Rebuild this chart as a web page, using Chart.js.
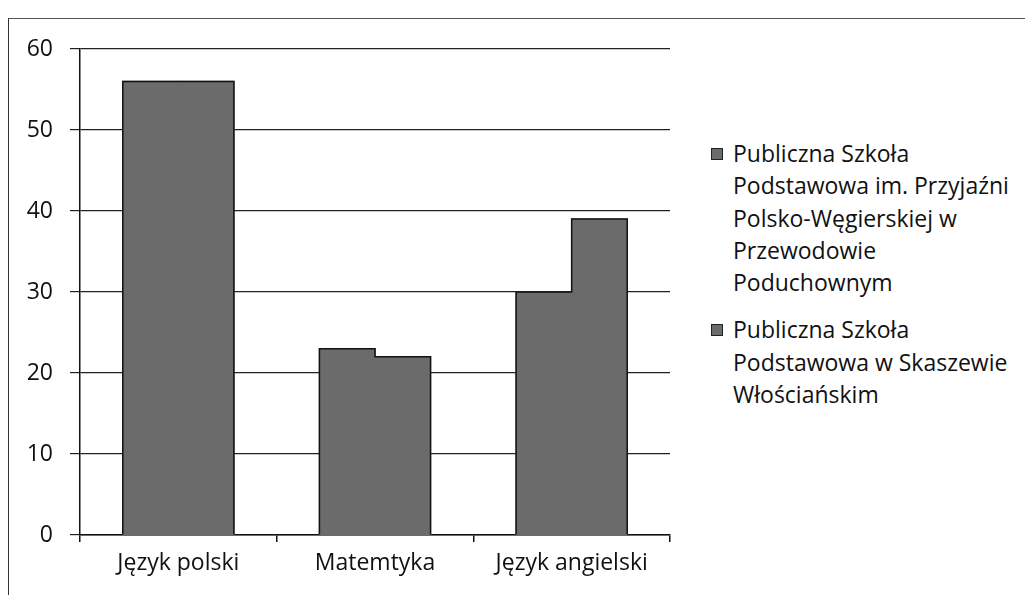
<!DOCTYPE html>
<html>
<head>
<meta charset="utf-8">
<script src="https://cdn.jsdelivr.net/npm/chart.js@4"></script>
<style>
  body { margin: 0; background: #fff; font-family: "Open Sans", sans-serif; }
  .frame {
    position: absolute; left: 8px; top: 18px; width: 1100px; height: 600px;
    border-left: 1.5px solid #333; border-top: 1.5px solid #555;
  }
  .wrap { position: absolute; left: 0; top: 0; width: 700px; height: 595px; }
  .legend { position: absolute; left: 710px; top: 137px; color: #111; font-size: 23px; line-height: 32.3px; }
  .legend .item { position: relative; padding-left: 23px; margin-bottom: 15px; width: 310px; }
  .legend .box {
    position: absolute; left: 1px; top: 11px; width: 10px; height: 10px;
    background: #6b6b6b; border: 1px solid #222;
  }
</style>
</head>
<body>
<div class="frame"></div>
<div class="wrap"><canvas id="chart" width="700" height="595"></canvas></div>
<div class="legend" id="legend"></div>
<script>
  // chart data
  const categories = ["Język polski", "Matemtyka", "Język angielski"];
  const seriesNames = [
    ["Publiczna Szkoła", "Podstawowa im. Przyjaźni", "Polsko-Węgierskiej w", "Przewodowie", "Poduchownym"],
    ["Publiczna Szkoła", "Podstawowa w Skaszewie", "Włościańskim"]
  ];
  const przewodow = [56, 23, 30];
  const skaszewo = [56, 22, 39];
  const yTicks = [0, 10, 20, 30, 40, 50, 60];

  const barColor = "#6b6b6b";
  const fontFamily = "'Open Sans', sans-serif";

  // legend as plain html, the labels wrap over several lines
  const legendEl = document.getElementById("legend");
  seriesNames.forEach((lines) => {
    const item = document.createElement("div");
    item.className = "item";
    item.innerHTML = '<span class="box"></span>' + lines.join("<br>");
    legendEl.appendChild(item);
  });

  // both bars of a group share one dark outline, no line between them
  const groupOutline = {
    id: "groupOutline",
    afterDatasetsDraw(chart) {
      const ctx = chart.ctx;
      const left = chart.getDatasetMeta(0).data;
      const right = chart.getDatasetMeta(1).data;
      ctx.save();
      ctx.strokeStyle = "#111";
      ctx.lineWidth = 1.5;
      left.forEach((a, i) => {
        const b = right[i];
        const x0 = a.x - a.width / 2;
        const xm = a.x + a.width / 2;
        const x1 = b.x + b.width / 2;
        ctx.beginPath();
        ctx.moveTo(x0, a.base);
        ctx.lineTo(x0, a.y);
        ctx.lineTo(xm, a.y);
        ctx.lineTo(xm, b.y);
        ctx.lineTo(x1, b.y);
        ctx.lineTo(x1, b.base);
        ctx.stroke();
      });
      ctx.restore();
    },
  };

  new Chart(document.getElementById("chart"), {
    type: "bar",
    data: {
      labels: categories,
      datasets: [
        { label: seriesNames[0].join(" "), data: przewodow, backgroundColor: barColor, borderWidth: 0 },
        { label: seriesNames[1].join(" "), data: skaszewo, backgroundColor: barColor, borderWidth: 0 },
      ],
    },
    options: {
      responsive: false,
      animation: false,
      layout: { padding: { top: 49, right: 30, left: 0, bottom: 0 } },
      datasets: { bar: { categoryPercentage: 0.565, barPercentage: 1.0, inflateAmount: 0.6 } },
      plugins: { legend: { display: false }, tooltip: { enabled: false } },
      scales: {
        x: {
          grid: { drawOnChartArea: false, offset: true, tickLength: 7, color: "#111", lineWidth: 1.5 },
          border: { color: "#111", width: 1.5 },
          ticks: { color: "#111", font: { family: fontFamily, size: 23 }, padding: 8 },
          afterFit: (scale) => { scale.height = 60; },
        },
        y: {
          min: 0,
          max: 60,
          afterBuildTicks: (scale) => { scale.ticks = yTicks.map((v) => ({ value: v })); },
          grid: { color: "#222", lineWidth: 1.2, tickLength: 10 },
          border: { color: "#111", width: 1.5 },
          ticks: { color: "#111", font: { family: fontFamily, size: 23 }, padding: 17 },
          afterFit: (scale) => { scale.width = 80; },
        },
      },
    },
    plugins: [groupOutline],
  });
</script>
</body>
</html>
